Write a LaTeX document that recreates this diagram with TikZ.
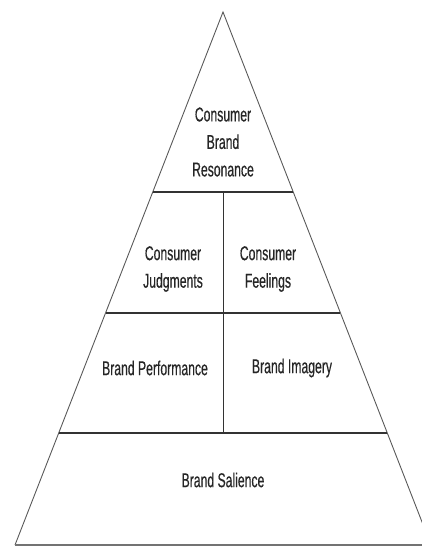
\documentclass[tikz,border=0pt]{standalone}
\usepackage{fontspec}
\newfontfamily\pyrfont[FakeStretch=0.61,FakeBold=0.4]{Liberation Sans}
\usetikzlibrary{calc}

\begin{document}
\begin{tikzpicture}[x=1pt,y=-1pt,every node/.style={font=\pyrfont\fontsize{20}{27.5}\selectfont,text=black!85,align=center,inner sep=0pt}]
  \useasboundingbox (0,0) rectangle (422,546);
  \clip (0,0) rectangle (422,546);
  \coordinate (A) at (223,12);
  \coordinate (L) at (15,545);
  \coordinate (R) at (431,545);
  % outline
  \draw[black!65,line width=0.9pt] (L) -- (A) -- (R);
  \draw[black!55,line width=1.1pt] (L) -- (R);
  % tiers
  \draw[black!80,line width=1.4pt] ($(A)!0.7899!(L)$) -- ($(A)!0.7899!(R)$);
  \draw[black!80,line width=1.4pt] ($(A)!0.5647!(L)$) -- ($(A)!0.5647!(R)$);
  \draw[black!80,line width=1.4pt] ($(A)!0.3377!(L)$) -- ($(A)!0.3377!(R)$);
  \draw[black!80,line width=1pt] (223,192) -- (223,433);
  % labels
  \node (resonance) at (223,142) {Consumer\\Brand\\Resonance};
  \node (judgments) at (173,269) {Consumer\\Judgments};
  \node (feelings) at (268,269) {Consumer\\Feelings};
  \node (performance) at (155,368) {Brand Performance};
  \node (imagery) at (292,368) {Brand Imagery};
  \node (salience) at (223,480) {Brand Salience};
\end{tikzpicture}
\end{document}
